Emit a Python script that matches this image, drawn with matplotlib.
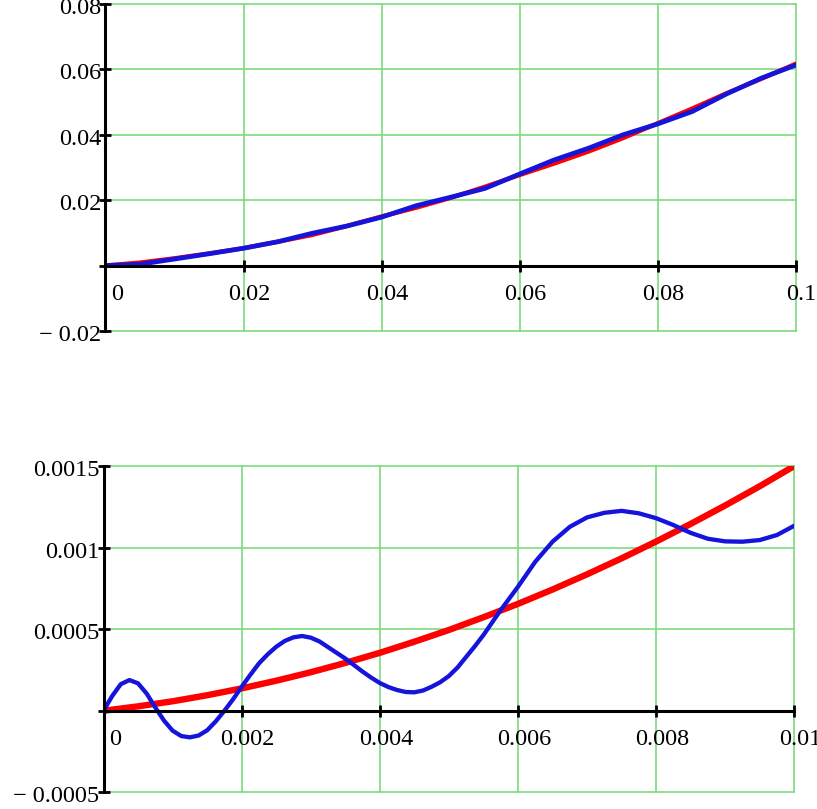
import numpy as np
import matplotlib
matplotlib.use('Agg')
import matplotlib.pyplot as plt
from matplotlib.transforms import offset_copy

plt.rcParams['font.family'] = ['Liberation Serif', 'DejaVu Serif']
plt.rcParams['font.size'] = 17.5

grid_green = '#7ddc7d'
red = '#ff0000'
blue = '#1414dc'

# upper plot (0 .. 0.1)
x_top = [0, 0.005, 0.01, 0.015, 0.02, 0.025, 0.03, 0.035, 0.04, 0.045, 0.05,
         0.055, 0.06, 0.065, 0.07, 0.075, 0.08, 0.085, 0.09, 0.095, 0.1]
red_top = [0, 0.0009, 0.0022, 0.0037, 0.0053, 0.0073, 0.0094, 0.0121, 0.015, 0.0177, 0.0207,
           0.0241, 0.0277, 0.0312, 0.0349, 0.039, 0.0435, 0.048, 0.0527, 0.0571, 0.0617]
blue_top = [0, 0.0004, 0.002, 0.0036, 0.0053, 0.0073, 0.0099, 0.0121, 0.0148, 0.0183, 0.0209,
            0.0236, 0.028, 0.0323, 0.0359, 0.04, 0.0433, 0.0471, 0.0525, 0.0573, 0.0613]
xticks_top = [0, 0.02, 0.04, 0.06, 0.08, 0.1]
xlabels_top = ['0', '0.02', '0.04', '0.06', '0.08', '0.1']
yticks_top = [-0.02, 0, 0.02, 0.04, 0.06, 0.08]
ylabels_top = ['\u2212 0.02', '', '0.02', '0.04', '0.06', '0.08']

# lower plot (0 .. 0.01)
x_red_bot = [0, 0.0005, 0.001, 0.0015, 0.002, 0.0025, 0.003, 0.0035, 0.004, 0.0045, 0.005,
             0.0055, 0.006, 0.0065, 0.007, 0.0075, 0.008, 0.0085, 0.009, 0.0095, 0.01]
red_bot = [0, 0.000027, 0.000058, 0.000095, 0.000137, 0.000184, 0.000236, 0.000293, 0.000355,
           0.000423, 0.000495, 0.000573, 0.000655, 0.000743, 0.000836, 0.000934, 0.001037,
           0.001145, 0.001258, 0.001376, 0.0015]
x_blue_bot = [0, 0.000125, 0.00025, 0.000375, 0.0005, 0.000625, 0.00075, 0.000875,
              0.001, 0.001125, 0.00125, 0.001375, 0.0015, 0.001625, 0.00175, 0.001875,
              0.002, 0.002125, 0.00225, 0.002375, 0.0025, 0.002625, 0.00275, 0.002875,
              0.003, 0.003125, 0.00325, 0.003375, 0.0035, 0.003625, 0.00375, 0.003875,
              0.004, 0.004125, 0.00425, 0.004375, 0.0045, 0.004625, 0.00475, 0.004875,
              0.005, 0.005125, 0.00525, 0.005375, 0.0055, 0.00575, 0.006, 0.00625,
              0.0065, 0.00675, 0.007, 0.00725, 0.0075, 0.00775, 0.008, 0.00825,
              0.0085, 0.00875, 0.009, 0.00925, 0.0095, 0.00975, 0.01]
blue_bot = [0, 0.00009, 0.000163, 0.000188, 0.000168, 0.000105, 0.00002, -0.00006,
            -0.000122, -0.000155, -0.000163, -0.000152, -0.00012, -0.000065, 0.0, 0.00007,
            0.000147, 0.00022, 0.00029, 0.000345, 0.000392, 0.000428, 0.00045, 0.000458,
            0.000448, 0.000425, 0.00039, 0.000355, 0.00032, 0.00028, 0.00024, 0.000203,
            0.00017, 0.000145, 0.000127, 0.000115, 0.000113, 0.000124, 0.000147, 0.000175,
            0.000213, 0.000265, 0.00033, 0.000395, 0.000464, 0.000617, 0.00076, 0.000913,
            0.001036, 0.001127, 0.001185, 0.001213, 0.001225, 0.00121, 0.00118, 0.001138,
            0.00109, 0.001054, 0.001038, 0.001036, 0.001046, 0.001077, 0.001134]
xticks_bot = [0, 0.002, 0.004, 0.006, 0.008, 0.01]
xlabels_bot = ['0', '0.002', '0.004', '0.006', '0.008', '0.01']
yticks_bot = [-0.0005, 0, 0.0005, 0.001, 0.0015]
ylabels_bot = ['\u2212 0.0005', '', '0.0005', '0.001', '0.0015']


def mathcad_axes(ax, xticks, xlabels, yticks, ylabels):
    ax.set_xlim(xticks[0], xticks[-1])
    ax.set_ylim(yticks[0], yticks[-1])
    ax.set_xticks(xticks)
    ax.set_yticks(yticks)
    ax.grid(True, color=grid_green, linewidth=1.2, clip_on=False)
    for s in ['top', 'right']:
        ax.spines[s].set_visible(False)
    ax.spines['left'].set_position(('data', 0))
    ax.spines['bottom'].set_position(('data', 0))
    for s in ['left', 'bottom']:
        ax.spines[s].set_linewidth(2.2)
        ax.spines[s].set_zorder(3)
    ax.tick_params(direction='inout', length=9, width=2, color='black',
                   labelbottom=False, labelleft=False)
    # labels drawn by hand, Mathcad style
    for xv, lab in zip(xticks, xlabels):
        ha = 'left' if xv == 0 else 'center'
        tr = offset_copy(ax.transData, fig=fig, x=6, y=-34, units='dots')
        ax.text(xv, 0, lab, transform=tr, ha=ha, va='baseline', clip_on=False)
    for yv, lab in zip(yticks, ylabels):
        tr = offset_copy(ax.transData, fig=fig, x=-4, y=-10, units='dots')
        ax.text(0, yv, lab, transform=tr, ha='right', va='baseline', clip_on=False)


fig = plt.figure(figsize=(8.17, 8.09), dpi=100)
ax1 = fig.add_axes([0.1291, 0.5909, 0.8448, 0.4042])
ax2 = fig.add_axes([0.1267, 0.0206, 0.8455, 0.4034])

ax1.plot(x_top, red_top, color=red, linewidth=3.2, solid_capstyle='round')
ax1.plot(x_top, blue_top, color=blue, linewidth=3.4, solid_capstyle='round')
mathcad_axes(ax1, xticks_top, xlabels_top, yticks_top, ylabels_top)

ax2.plot(x_red_bot, red_bot, color=red, linewidth=4.6, solid_capstyle='round')
ax2.plot(x_blue_bot, blue_bot, color=blue, linewidth=3.1, solid_capstyle='round')
mathcad_axes(ax2, xticks_bot, xlabels_bot, yticks_bot, ylabels_bot)

fig.savefig('out.png', dpi=100)
